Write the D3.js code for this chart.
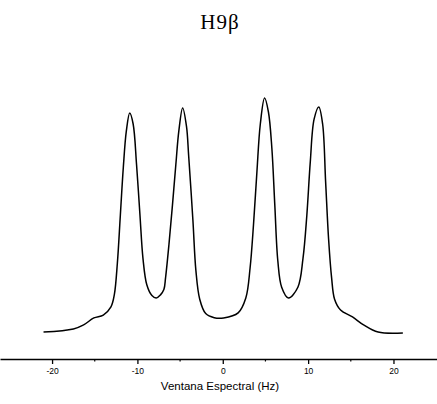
<!DOCTYPE html>
<html>
<head>
<meta charset="utf-8">
<script src="https://cdn.jsdelivr.net/npm/d3@7"></script>
<style>
  body { margin: 0; background: #fff; }
</style>
</head>
<body>
<div id="chart"></div>
<script>
// spectrum: frequency (Hz) and relative intensity
const hz = [-21.0, -17.5, -16.3, -15.1, -14.0, -13.1, -12.7, -12.35, -12.0, -11.65,
  -11.3, -10.9, -10.5, -10.1, -9.7, -9.35, -8.9, -8.3, -7.8, -7.3,
  -6.9, -6.7, -6.3, -5.9, -5.5, -5.15, -4.7, -4.25, -4.0, -3.5,
  -3.15, -2.7, -2.0, -1.0, 0.1, 1.8, 2.7, 3.2, 3.6, 4.0,
  4.4, 4.9, 5.35, 5.75, 6.1, 6.45, 6.9, 7.7, 8.8, 9.4,
  9.85, 10.25, 10.7, 11.25, 11.7, 12.05, 12.4, 12.75, 13.1, 13.8,
  15.2, 16.5, 18.2, 21.1];
const intensity = [3.3, 4.6, 6.3, 9.2, 10.4, 13.8, 19, 32, 52, 72,
  87, 94.6, 90, 73, 52, 34, 23, 18.5, 17.5, 18.8,
  21, 26, 40, 56, 73, 87, 96.7, 89, 77, 50,
  29, 17, 11, 9.3, 9.2, 11.3, 17.5, 30, 48, 70,
  90, 100.8, 95, 80, 56, 33, 22, 17.5, 22, 34,
  52, 74, 92, 97.1, 90, 66, 42, 26, 17, 12.5,
  9.6, 6.3, 3.3, 2.9];
const majorTicks = [-20, -10, 0, 10, 20];
const minorTicks = [-15, -5, 5, 15];
const title = "H9β";
const xLabel = "Ventana Espectral (Hz)";

const width = 437, height = 404;
const axisY = 359;

const svg = d3.select("#chart").append("svg")
    .attr("width", width)
    .attr("height", height)
    .style("background", "#fff");

const x = d3.scaleLinear().domain([-26.1, 25.1]).range([0, width]);
const y = d3.scaleLinear().domain([0, 100]).range([340, 100]);

const data = hz.map((h, i) => ({ h: h, v: intensity[i] }));

svg.append("path")
    .datum(data)
    .attr("fill", "none")
    .attr("stroke", "#000")
    .attr("stroke-width", 1.5)
    .attr("stroke-linejoin", "round")
    .attr("d", d3.line()
        .x(d => x(d.h))
        .y(d => y(d.v))
        .curve(d3.curveCatmullRom.alpha(0.5)));

// axis
const axis = svg.append("g").attr("transform", "translate(0," + axisY + ")");
axis.call(d3.axisBottom(x)
    .tickValues(majorTicks)
    .tickSize(5)
    .tickSizeOuter(0)
    .tickPadding(4)
    .tickFormat(d => String(d)));
axis.select(".domain").attr("stroke-width", 1.6);
axis.selectAll(".tick line").attr("stroke-width", 1.3);
axis.selectAll(".tick text")
    .attr("font-family", "Liberation Sans, Arial, sans-serif")
    .attr("font-size", 8.5)
    .attr("fill", "#000");

axis.selectAll(".minor")
    .data(minorTicks)
    .enter().append("line")
    .attr("class", "minor")
    .attr("x1", d => x(d)).attr("x2", d => x(d))
    .attr("y1", 0).attr("y2", 2.5)
    .attr("stroke", "#000")
    .attr("stroke-width", 1.2);

svg.append("text")
    .attr("x", 220)
    .attr("y", 390)
    .attr("text-anchor", "middle")
    .attr("font-family", "Liberation Sans, Arial, sans-serif")
    .attr("font-size", 11.5)
    .text(xLabel);

svg.append("text")
    .attr("x", 220)
    .attr("y", 29)
    .attr("text-anchor", "middle")
    .attr("font-family", "Liberation Serif, Times New Roman, serif")
    .attr("font-size", 21)
    .attr("letter-spacing", 1)
    .text(title);
</script>
</body>
</html>
